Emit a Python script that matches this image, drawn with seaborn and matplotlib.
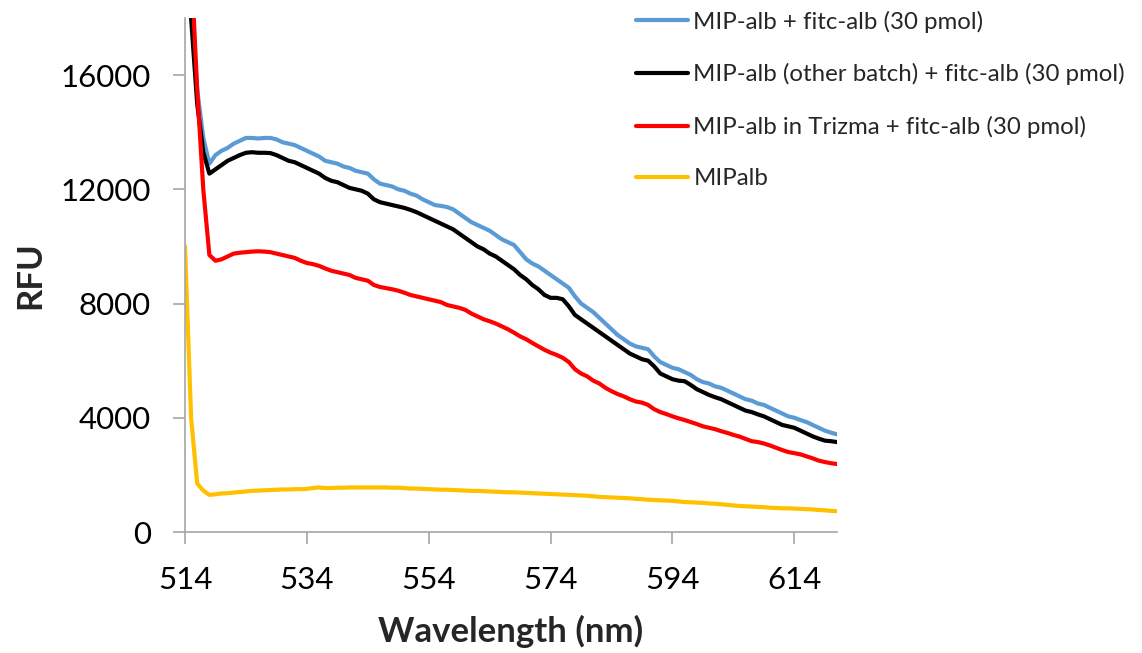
import numpy as np
import pandas as pd
import matplotlib
matplotlib.use("Agg")
import matplotlib.pyplot as plt
import seaborn as sns

wavelength = list(range(514, 622))

blue = [30000, 18500, 15500, 13800, 12900, 13200, 13350, 13450, 13600, 13700,
        13800, 13800, 13780, 13800, 13800, 13750, 13650, 13600, 13550, 13450,
        13350, 13250, 13150, 13000, 12950, 12900, 12800, 12750, 12650, 12600,
        12550, 12350, 12200, 12150, 12100, 12000, 11950, 11850, 11780, 11650,
        11550, 11450, 11420, 11380, 11300, 11150, 11000, 10850, 10750, 10650,
        10550, 10400, 10250, 10150, 10050, 9800, 9550, 9400, 9300, 9150,
        9000, 8850, 8700, 8550, 8250, 8000, 7850, 7700, 7500, 7300,
        7100, 6900, 6750, 6600, 6500, 6450, 6400, 6150, 5950, 5850,
        5750, 5700, 5600, 5500, 5350, 5250, 5200, 5100, 5050, 4950,
        4850, 4750, 4650, 4600, 4500, 4450, 4350, 4250, 4150, 4050,
        4000, 3920, 3850, 3750, 3650, 3550, 3480, 3420]

black = [30000, 18000, 15000, 13300, 12550, 12700, 12850, 13000, 13100, 13200,
         13280, 13300, 13280, 13280, 13270, 13200, 13100, 13000, 12950, 12850,
         12750, 12650, 12550, 12400, 12300, 12250, 12150, 12050, 12000, 11950,
         11850, 11650, 11550, 11500, 11450, 11400, 11350, 11280, 11200, 11100,
         11000, 10900, 10800, 10700, 10600, 10450, 10300, 10150, 10000, 9900,
         9750, 9650, 9500, 9350, 9200, 9000, 8850, 8650, 8500, 8300,
         8200, 8200, 8150, 7900, 7600, 7450, 7300, 7150, 7000, 6850,
         6700, 6550, 6400, 6250, 6150, 6050, 6000, 5800, 5550, 5450,
         5350, 5300, 5280, 5150, 5000, 4900, 4800, 4720, 4650, 4550,
         4450, 4350, 4250, 4200, 4120, 4050, 3950, 3850, 3750, 3700,
         3650, 3550, 3450, 3350, 3270, 3200, 3180, 3150]

red = [35000, 20000, 15500, 12000, 9700, 9500, 9550, 9650, 9750, 9780,
       9800, 9820, 9830, 9820, 9800, 9750, 9700, 9650, 9600, 9500,
       9420, 9380, 9320, 9230, 9150, 9100, 9050, 9000, 8900, 8850,
       8800, 8650, 8580, 8540, 8500, 8450, 8380, 8300, 8250, 8200,
       8150, 8100, 8050, 7950, 7900, 7850, 7780, 7650, 7550, 7450,
       7380, 7300, 7200, 7100, 6980, 6850, 6750, 6620, 6500, 6380,
       6280, 6200, 6100, 5950, 5700, 5550, 5450, 5300, 5200, 5050,
       4930, 4830, 4750, 4650, 4570, 4530, 4450, 4300, 4200, 4130,
       4050, 3980, 3920, 3850, 3780, 3700, 3650, 3600, 3530, 3470,
       3400, 3340, 3260, 3180, 3150, 3100, 3030, 2950, 2870, 2800,
       2760, 2720, 2650, 2580, 2500, 2450, 2410, 2380]

yellow = [10000, 4000, 1700, 1450, 1300, 1320, 1350, 1360, 1380, 1400,
          1420, 1440, 1450, 1460, 1470, 1480, 1490, 1490, 1500, 1500,
          1510, 1540, 1560, 1540, 1540, 1550, 1550, 1560, 1560, 1560,
          1560, 1560, 1560, 1560, 1550, 1550, 1540, 1520, 1520, 1510,
          1500, 1490, 1480, 1480, 1470, 1460, 1450, 1440, 1440, 1430,
          1420, 1410, 1400, 1390, 1390, 1380, 1370, 1360, 1350, 1340,
          1330, 1320, 1310, 1300, 1290, 1280, 1270, 1250, 1230, 1220,
          1210, 1200, 1190, 1180, 1160, 1150, 1130, 1120, 1110, 1100,
          1090, 1070, 1050, 1040, 1030, 1020, 1000, 990, 970, 950,
          930, 910, 900, 890, 880, 870, 850, 840, 830, 830,
          820, 810, 800, 790, 770, 760, 740, 730]

series_names = ["MIP-alb + fitc-alb (30 pmol)",
                "MIP-alb (other batch) + fitc-alb (30 pmol)",
                "MIP-alb in Trizma + fitc-alb (30 pmol)",
                "MIPalb"]
colors = ["#5B9BD5", "#000000", "#FF0000", "#FFC000"]

x_ticks = [514, 534, 554, 574, 594, 614]
y_ticks = [0, 4000, 8000, 12000, 16000]

frames = []
for name, vals in zip(series_names, [blue, black, red, yellow]):
    frames.append(pd.DataFrame({"Wavelength": wavelength, "RFU": vals, "series": name}))
df = pd.concat(frames, ignore_index=True)

sns.set_theme(style="white")
plt.rcParams['font.family'] = ['Lato', 'DejaVu Sans']

fig = plt.figure(figsize=(11.42, 6.53), dpi=100)
ax = fig.add_axes([185/1142, 1-532/653, (837-185)/1142, (532-18)/653])

sns.lineplot(data=df, x="Wavelength", y="RFU", hue="series", hue_order=series_names,
             palette=colors, linewidth=3.0, ax=ax, legend=True)

ax.set_xlim(514, 621)
ax.set_ylim(0, 18000)
ax.set_xticks(x_ticks)
ax.set_yticks(y_ticks)
ax.set_xticklabels([str(t) for t in x_ticks])
ax.set_yticklabels([str(t) for t in y_ticks])

for s in ["top", "right"]:
    ax.spines[s].set_visible(False)
for s in ["left", "bottom"]:
    ax.spines[s].set_color("#A6A6A6")
    ax.spines[s].set_linewidth(1.2)

ax.tick_params(axis="both", which="major", direction="out", length=8.5, width=1.2,
               color="#A6A6A6", labelsize=22.5, labelcolor="black")
ax.tick_params(axis="y", pad=16)
ax.tick_params(axis="x", pad=16)
ax.tick_params(bottom=True, left=True)

ax.set_xlabel("Wavelength (nm)", fontsize=25, fontweight="bold", labelpad=15)
ax.set_ylabel("RFU", fontsize=25, fontweight="bold", labelpad=10)

handles, labels = ax.get_legend_handles_labels()
ax.get_legend().remove()
fig.legend(handles, labels, loc="upper left", bbox_to_anchor=(614/1142, 1 + 11/653),
           frameon=False, fontsize=17.3, handlelength=2.2, handletextpad=0.2,
           labelspacing=1.27)

fig.savefig("out.png", dpi=100)
